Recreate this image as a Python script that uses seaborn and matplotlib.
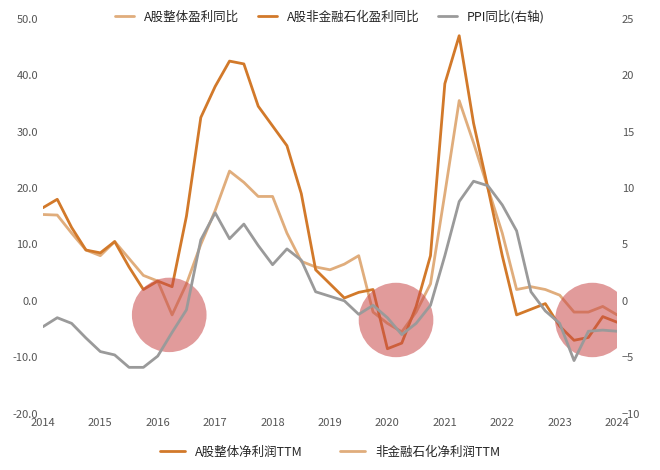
import matplotlib
matplotlib.use("Agg")
import matplotlib.pyplot as plt
import seaborn as sns
import numpy as np
import pandas as pd
from matplotlib.patches import Ellipse
from matplotlib.lines import Line2D

sns.set_theme(style="white")
plt.rcParams['font.family'] = ['Noto Sans CJK SC', 'DejaVu Sans']

quarters = [2014 + 0.25 * i for i in range(41)]
nonfin = [16.5, 18, 13, 9, 8.5, 10.5, 6, 2, 3.5, 2.5, 15, 32.5, 38, 42.5, 42, 34.5,
          31, 27.5, 19, 5.5, 3, 0.5, 1.5, 2, -8.5, -7.5, -1, 8, 38.5, 47, 31.5, 20,
          8, -2.5, -1.5, -0.5, -4.5, -7, -6.5, -2.8, -3.8]
overall = [15.3, 15.2, 12, 9, 8, 10.5, 7.5, 4.5, 3.5, -2.5, 3, 10, 16, 23, 21, 18.5,
           18.5, 12, 7, 6, 5.5, 6.5, 8, -2, -4, -5.5, -2, 3, 19, 35.5, 28, 20,
           12, 2, 2.5, 2, 1, -2, -2, -1, -2.5]
ppi = [-2.3, -1.5, -2, -3.3, -4.5, -4.8, -5.9, -5.9, -4.9, -2.8, -0.8, 5.4, 7.8, 5.5, 6.8, 4.9,
       3.2, 4.6, 3.6, 0.8, 0.4, 0, -1.2, -0.4, -1.5, -3, -2, -0.4, 4, 8.8, 10.6, 10.2,
       8.5, 6.2, 0.8, -0.9, -2, -5.3, -2.7, -2.6, -2.7]
circles = [(2016.2, -2.5), (2020.15, -3.4), (2023.57, -3.4)]

df = pd.DataFrame({"q": quarters, "nonfin": nonfin, "overall": overall, "ppi": ppi})
light = "#e0ad7c"; dark = "#d2792a"; gray = "#9a9a9a"

fig, ax = plt.subplots(figsize=(6.6, 4.7), dpi=100)
fig.subplots_adjust(left=0.065, right=0.935, top=0.96, bottom=0.12)
sns.lineplot(data=df, x="q", y="overall", ax=ax, color=light, lw=2, label="A股整体盈利同比", legend=False)
sns.lineplot(data=df, x="q", y="nonfin", ax=ax, color=dark, lw=2, label="A股非金融石化盈利同比", legend=False)
ax2 = ax.twinx()
sns.lineplot(data=df, x="q", y="ppi", ax=ax2, color=gray, lw=2, label="PPI同比(右轴)", legend=False)

ax.set_ylim(-20, 50); ax.set_yticks(np.arange(-20, 51, 10))
ax.set_yticklabels([f"{v:.1f}" for v in np.arange(-20, 51, 10)])
ax2.set_ylim(-10, 25); ax2.set_yticks(np.arange(-10, 26, 5))
ax.set_xlim(2014, 2024); ax.set_xticks(range(2014, 2025))
for a in (ax, ax2):
    a.set_xlabel(""); a.set_ylabel("")
    a.tick_params(labelsize=8, colors="#555555", length=0)
    for s in a.spines.values():
        s.set_visible(False)
for cx, cy in circles:
    ax.add_patch(Ellipse((cx, cy), 1.3, 13.2, color="#c94a4a", alpha=0.55, lw=0, zorder=5))

h1, l1 = ax.get_legend_handles_labels(); h2, l2 = ax2.get_legend_handles_labels()
ax.legend(h1 + h2, l1 + l2, loc="upper center", bbox_to_anchor=(0.5, 1.05), ncol=3,
          frameon=False, fontsize=9, handlelength=1.5, columnspacing=1.5)
fig.legend([Line2D([], [], color=dark, lw=2), Line2D([], [], color=light, lw=2)],
           ["A股整体净利润TTM", "非金融石化净利润TTM"], loc="lower center", ncol=2,
           frameon=False, fontsize=9, bbox_to_anchor=(0.5, 0.0), columnspacing=3)
fig.savefig("out.png", dpi=100)
